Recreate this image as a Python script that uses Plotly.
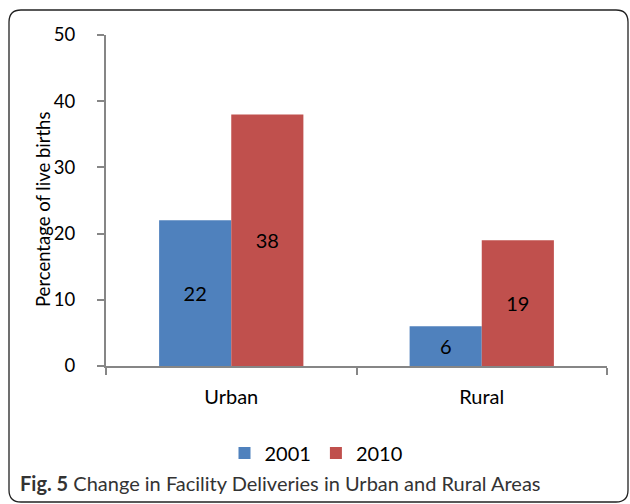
import plotly.graph_objects as go

categories = ["Urban", "Rural"]
series_names = ["2001", "2010"]
values_2001 = [22, 6]
values_2010 = [38, 19]
colors = ["#4F81BD", "#C0504D"]
y_title = "Percentage of live births"
caption = "<b>Fig. 5</b> Change in Facility Deliveries in Urban and Rural Areas"

W, H = 630, 504
L, R, T, B = 106, 23, 35, 138
PW, PH = W - L - R, H - T - B

def fx(px):
    return (px - L) / PW

def fy(py):
    return (H - B - py) / PH

FONT = "Lato"

fig = go.Figure()
for name, vals, col in zip(series_names, [values_2001, values_2010], colors):
    fig.add_trace(go.Bar(
        x=categories, y=vals, name=name,
        marker=dict(color=col, line=dict(width=0)),
        text=[str(v) for v in vals],
        textposition="inside", insidetextanchor="middle",
        textangle=0, constraintext="none",
        textfont=dict(color="black", size=20, family=FONT),
    ))

# rounded border
x0, x1, y0, y1, r = 9, 628, 10, 502, 12
path = (f"M {fx(x0+r)},{fy(y0)} L {fx(x1-r)},{fy(y0)} Q {fx(x1)},{fy(y0)} {fx(x1)},{fy(y0+r)} "
        f"L {fx(x1)},{fy(y1-r)} Q {fx(x1)},{fy(y1)} {fx(x1-r)},{fy(y1)} "
        f"L {fx(x0+r)},{fy(y1)} Q {fx(x0)},{fy(y1)} {fx(x0)},{fy(y1-r)} "
        f"L {fx(x0)},{fy(y0+r)} Q {fx(x0)},{fy(y0)} {fx(x0+r)},{fy(y0)} Z")
fig.add_shape(type="path", path=path, xref="paper", yref="paper",
              line=dict(color="#222222", width=1.3), layer="above")

fig.add_annotation(
    xref="paper", yref="paper", x=fx(18), y=fy(483),
    xanchor="left", yanchor="middle", showarrow=False,
    text=caption,
    font=dict(family=FONT, size=20, color="#333333"),
)

fig.add_annotation(
    xref="paper", yref="paper", x=fx(43), y=fy(210),
    xanchor="center", yanchor="middle", showarrow=False, textangle=-90,
    text=y_title,
    font=dict(family=FONT, size=18.5, color="black"),
)

fig.update_layout(
    width=W, height=H,
    margin=dict(l=L, r=R, t=T, b=B, pad=0),
    paper_bgcolor="white", plot_bgcolor="white",
    barmode="group", bargap=0.424, bargroupgap=0,
    font=dict(family=FONT, color="black"),
    showlegend=True,
    legend=dict(orientation="h", x=fx(316), y=fy(453), xanchor="center", yanchor="middle",
                font=dict(size=20, family=FONT), itemwidth=30, traceorder="normal"),
    xaxis=dict(
        showline=True, linecolor="#868686", linewidth=2,
        ticks="outside", tickson="boundaries", ticklen=7, tickcolor="#868686", tickwidth=1.5,
        tickfont=dict(size=20, family=FONT), showgrid=False, range=[-0.5, 1.5],
        ticklabelstandoff=12,
    ),
    yaxis=dict(
        range=[0, 50], dtick=10, showline=True, linecolor="#868686", linewidth=2,
        ticks="outside", ticklen=7, tickcolor="#868686", tickwidth=1.5,
        tickfont=dict(size=18.5, family=FONT), showgrid=False, zeroline=False,
        ticklabelstandoff=18,
    ),
)

fig.write_html("out.html", config={"displayModeBar": False},
               post_script="document.body.style.margin='0';document.body.style.padding='0';")
